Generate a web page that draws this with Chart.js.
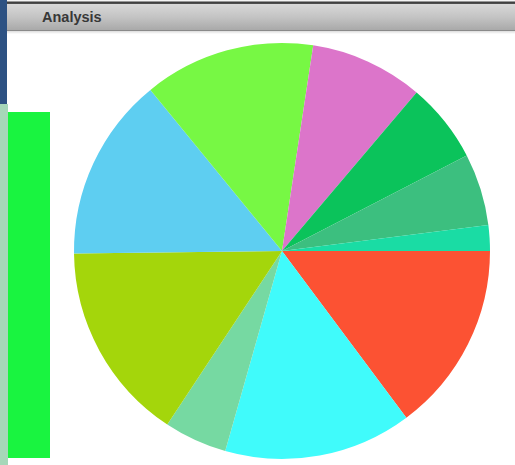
<!DOCTYPE html>
<html>
<head>
<meta charset="utf-8">
<script src="https://cdn.jsdelivr.net/npm/chart.js@4"></script>
<style>
  html, body { margin:0; padding:0; width:515px; height:465px; overflow:hidden; background:#ffffff; }
  #wrap { position:absolute; left:0; top:0; width:515px; height:465px; }
  #blue { position:absolute; left:0; top:0; width:7px; height:104px; background:#2d5283; }
  #topline { position:absolute; left:7px; top:0; width:508px; height:4px; background:linear-gradient(#f4f4f4 0, #f4f4f4 1px, #3a3a3a 2px, #555 4px); }
  #bar { position:absolute; left:7px; top:4px; width:508px; height:26px;
         background:linear-gradient(#d8d8d8, #c4c4c4 50%, #a9a9a9); border-bottom:1px solid #8a8a8a; }
  #barshadow { position:absolute; left:7px; top:31px; width:508px; height:3px; background:linear-gradient(#dcdcdc,#ffffff); }
  #title { position:absolute; left:42px; top:9px; font-family:"Liberation Sans", Arial, sans-serif; font-weight:bold; font-size:14.5px; color:#383838; }
  #strip { position:absolute; left:0; top:104px; width:8px; height:361px; background:#a6d7b9; }
  #green { position:absolute; left:8px; top:112px; width:42px; height:346px; background:#19f440; }
  #c { position:absolute; left:0; top:0; }
</style>
</head>
<body>
<div id="wrap">
  <canvas id="c" width="515" height="465"></canvas>
  <div id="blue"></div>
  <div id="topline"></div>
  <div id="bar"></div>
  <div id="barshadow"></div>
  <div id="title">Analysis</div>
  <div id="strip"></div>
  <div id="green"></div>
</div>
<script>
// slices listed clockwise starting at 3 o'clock
const categories = ["Red", "Cyan", "Mint", "Yellow-green", "Sky blue", "Light green", "Pink", "Dark green", "Sea green", "Teal"];
const values = [14.8, 14.6, 4.9, 15.5, 14.3, 13.3, 8.8, 6.2, 5.6, 2.0];
const colors = ["#fc5233", "#40fbfb", "#76d9a2", "#a4d60b", "#5ecef1", "#77f844", "#dc75ca", "#0bc35b", "#3cbf7f", "#1adca4"];

new Chart(document.getElementById('c'), {
  type: 'pie',
  data: {
    labels: categories,
    datasets: [{ data: values, backgroundColor: colors, borderWidth: 0, hoverOffset: 0 }]
  },
  options: {
    responsive: false,
    animation: false,
    rotation: 90,
    layout: { padding: { left: 74, right: 25, top: 43, bottom: 6 } },
    plugins: { legend: { display: false }, tooltip: { enabled: false }, title: { display: false } }
  }
});
</script>
</body>
</html>
